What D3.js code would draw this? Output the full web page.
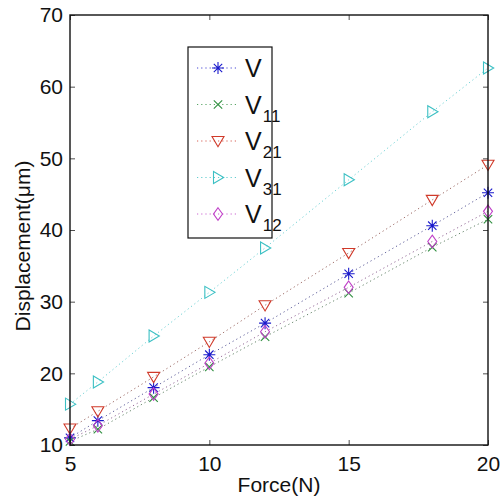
<!DOCTYPE html>
<html><head><meta charset="utf-8">
<script src="https://cdn.jsdelivr.net/npm/d3@7"></script>
<style>body{margin:0;background:#fff}svg{display:block}text{font-family:"Liberation Sans",Arial,sans-serif}</style>
</head><body><svg id="c" width="502" height="500"></svg>
<script>
const forces = [5, 6, 8, 10, 12, 15, 18, 20];
const V   = [11.0, 13.4, 18.0, 22.6, 27.0, 33.9, 40.6, 45.2];
const V11 = [10.5, 12.2, 16.6, 20.9, 25.1, 31.2, 37.6, 41.5];
const V21 = [12.3, 14.7, 19.5, 24.4, 29.5, 36.8, 44.2, 49.1];
const V31 = [15.7, 18.8, 25.2, 31.3, 37.5, 47.0, 56.5, 62.6];
const V12 = [10.8, 12.7, 17.1, 21.4, 25.8, 32.0, 38.4, 42.6];
const xTicks = [5, 10, 15, 20];
const yTicks = [10, 20, 30, 40, 50, 60, 70];
const seriesNames = [["V",""],["V","11"],["V","21"],["V","31"],["V","12"]];
const seriesValues = [V, V11, V21, V31, V12];
const seriesColors = ["#1a1acc", "#2f8f3f", "#d03a2a", "#3cc0c4", "#c040c8"];
const seriesMarkers = ["star", "x", "tridown", "triright", "diamond"];

const svg = d3.select("#c");
const L = 70, T = 15, R = 488, B = 445;
const x = d3.scaleLinear().domain([5, 20]).range([L, R]);
const y = d3.scaleLinear().domain([10, 70]).range([B, T]);

function markerPath(type, s) {
  switch (type) {
    case "star": return `M${-s},0L${s},0M0,${-s}L0,${s}M${-s*0.7},${-s*0.7}L${s*0.7},${s*0.7}M${-s*0.7},${s*0.7}L${s*0.7},${-s*0.7}`;
    case "x": return `M${-s*0.7},${-s*0.7}L${s*0.7},${s*0.7}M${-s*0.7},${s*0.7}L${s*0.7},${-s*0.7}`;
    case "tridown": return `M${-s},${-s*0.75}L${s},${-s*0.75}L0,${s*0.95}Z`;
    case "triright": return `M${-s*0.75},${-s}L${-s*0.75},${s}L${s*0.95},0Z`;
    case "diamond": return `M0,${-s*1.05}L${s*0.75},0L0,${s*1.05}L${-s*0.75},0Z`;
  }
}

// series
seriesValues.forEach((vals, i) => {
  const pts = forces.map((f, j) => [f, vals[j]]);
  svg.append("path").datum(pts)
    .attr("d", d3.line().x(d => x(d[0])).y(d => y(d[1])))
    .attr("fill", "none").attr("stroke", i === 3 ? seriesColors[i] : d3.interpolateRgb(seriesColors[i], "#333")(0.55))
    .attr("stroke-width", 1).attr("stroke-dasharray", "1.2,3").attr("opacity", 0.75);
  svg.append("g").selectAll("path").data(pts).join("path")
    .attr("transform", d => `translate(${x(d[0])},${y(d[1])})`)
    .attr("d", markerPath(seriesMarkers[i], 6))
    .attr("fill", "none").attr("stroke", seriesColors[i]).attr("stroke-width", 1.1);
});

// axes box with inward ticks
const axB = d3.axisBottom(x).tickValues(xTicks).tickSizeInner(-5).tickSizeOuter(0).tickPadding(11);
const axT = d3.axisTop(x).tickValues(xTicks).tickSizeInner(-5).tickSizeOuter(0).tickFormat("");
const axL = d3.axisLeft(y).tickValues(yTicks).tickSizeInner(-5).tickSizeOuter(0).tickPadding(7);
const axR = d3.axisRight(y).tickValues(yTicks).tickSizeInner(-5).tickSizeOuter(0).tickFormat("");
const gb = svg.append("g").attr("transform", `translate(0,${B})`).call(axB);
const gt = svg.append("g").attr("transform", `translate(0,${T})`).call(axT);
const gl = svg.append("g").attr("transform", `translate(${L},0)`).call(axL);
const gr = svg.append("g").attr("transform", `translate(${R},0)`).call(axR);
[gb, gt, gl, gr].forEach(g => {
  g.select(".domain").remove();
  g.selectAll(".tick line").attr("stroke", "#222").attr("stroke-width", 0.8);
  g.selectAll("text").attr("font-size", 21).attr("fill", "#111").attr("font-family", "'Liberation Sans',Arial,sans-serif");
});
gb.selectAll("text").attr("dy", "0.71em");
svg.append("rect").attr("x", L).attr("y", T).attr("width", R - L).attr("height", B - T)
  .attr("fill", "none").attr("stroke", "#111").attr("stroke-width", 1.4);

// axis labels
svg.append("text").attr("x", 279).attr("y", 492).attr("text-anchor", "middle")
  .attr("font-size", 21).attr("fill", "#111").text("Force(N)");
svg.append("text").attr("transform", `translate(30,246) rotate(-90)`).attr("text-anchor", "middle")
  .attr("font-size", 21).attr("fill", "#111").text("Displacement(μm)");

// legend
const lg = svg.append("g");
lg.append("rect").attr("x", 188).attr("y", 47).attr("width", 84).attr("height", 191)
  .attr("fill", "#fff").attr("stroke", "#111").attr("stroke-width", 1.2);
seriesNames.forEach((nm, i) => {
  const yy = 68 + i * 36.5;
  lg.append("line").attr("x1", 197).attr("x2", 238).attr("y1", yy).attr("y2", yy)
    .attr("stroke", seriesColors[i]).attr("stroke-width", 1).attr("stroke-dasharray", "1.2,3").attr("opacity", 0.8);
  lg.append("path").attr("transform", `translate(218,${yy})`).attr("d", markerPath(seriesMarkers[i], 6))
    .attr("fill", "none").attr("stroke", seriesColors[i]).attr("stroke-width", 1.1);
  const t = lg.append("text").attr("x", 245).attr("y", yy + 9).attr("font-size", 25).attr("fill", "#111").text(nm[0]);
  if (nm[1]) t.append("tspan").attr("font-size", 17).attr("dy", 8).attr("dx", 1).text(nm[1]);
});
</script></body></html>
